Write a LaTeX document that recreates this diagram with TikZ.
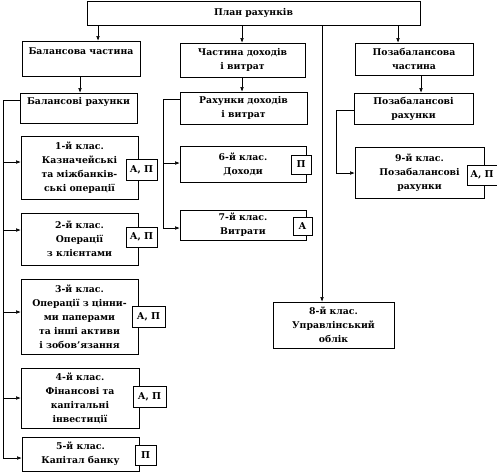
\documentclass[tikz,border=0pt]{standalone}
\usepackage{fontspec}
\setmainfont{DejaVu Serif}
\usetikzlibrary{arrows.meta}
\tikzset{
  blk/.style={draw, line width=0.6pt, align=center, inner sep=0pt,
    font=\bfseries\fontsize{9.3}{14}\selectfont},
  tag/.style={draw, fill=white, line width=0.6pt, inner sep=0pt,
    font=\bfseries\fontsize{9.5}{10}\selectfont},
  arr/.style={-{Latex[length=4.5pt,width=3.5pt]}, line width=0.5pt},
  ln/.style={line width=0.5pt},
}
\begin{document}
\begin{tikzpicture}[x=1pt, y=-1pt]
            \useasboundingbox (0,0) rectangle (497,472);
            % top level
            \node[blk, minimum width=333pt, minimum height=24pt] (plan) at (253.5,13) {План рахунків};
            \node[blk, minimum width=118pt, minimum height=35pt] (bal) at (81,58.5) {Балансова частина\\\mbox{}};
            \node[blk, minimum width=125pt, minimum height=34pt] (inc) at (242.5,60) {Частина доходів\\і витрат};
            \node[blk, minimum width=118pt, minimum height=32pt] (off) at (414,59) {Позабалансова\\частина};
            % accounts
            \node[blk, minimum width=117pt, minimum height=30pt] (balacc) at (78.5,108) {Балансові рахунки\\\mbox{}};
            \node[blk, minimum width=127pt, minimum height=32pt] (incacc) at (243.5,108) {Рахунки доходів\\і витрат};
            \node[blk, minimum width=119pt, minimum height=31pt] (offacc) at (413.5,108.5) {Позабалансові\\рахунки};
            % classes
            \node[blk, minimum width=117pt, minimum height=63pt] (c1) at (79.5,167.5) {1-й клас.\\Казначейські\\та міжбанків-\\ські операції};
            \node[blk, minimum width=117pt, minimum height=52pt] (c2) at (79.5,239) {2-й клас.\\Операції\\з клієнтами};
            \node[blk, minimum width=117pt, minimum height=75pt] (c3) at (79.5,316.5) {3-й клас.\\Операції з цінни-\\ми паперами\\та інші активи\\і зобов'язання};
            \node[blk, minimum width=118pt, minimum height=60pt] (c4) at (80,398) {4-й клас.\\Фінансові та\\капітальні\\інвестиції};
            \node[blk, minimum width=117pt, minimum height=34pt] (c5) at (80.5,454) {5-й клас.\\Капітал банку};
            \node[blk, minimum width=126pt, minimum height=36pt] (c6) at (243,164) {6-й клас.\\Доходи};
            \node[blk, minimum width=126pt, minimum height=30pt] (c7) at (243,225) {7-й клас.\\Витрати};
            \node[blk, minimum width=121pt, minimum height=46pt] (c8) at (333.5,325) {8-й клас.\\Управлінський\\облік};
            \node[blk, minimum width=129pt, minimum height=51pt] (c9) at (419.5,172.5) {9-й клас.\\Позабалансові\\рахунки};
            % side tags
            \node[tag, minimum width=31pt, minimum height=21pt] (t1) at (141.5,169.5) {А, П};
            \node[tag, minimum width=31pt, minimum height=20pt] (t2) at (141.5,237) {А, П};
            \node[tag, minimum width=33pt, minimum height=21pt] (t3) at (148.5,316.5) {А, П};
            \node[tag, minimum width=33pt, minimum height=21pt] (t4) at (149.5,396.5) {А, П};
            \node[tag, minimum width=21pt, minimum height=20pt] (t5) at (145.5,455) {П};
            \node[tag, minimum width=20pt, minimum height=19pt] (t6) at (301,164.5) {П};
            \node[tag, minimum width=19pt, minimum height=18pt] (t7) at (302.5,226) {А};
            \node[tag, minimum width=30pt, minimum height=20pt] (t9) at (482,175) {А, П};
            % from the plan
            \draw [arr] (plan.south -| 98,0) -- (bal.north -| 98,0);
            \draw [arr] (plan.south -| 242,0) -- (inc.north -| 242,0);
            \draw [arr] (plan.south -| 398,0) -- (off.north -| 398,0);
            \draw [arr] (plan.south -| 322,0) -- (c8.north -| 322,0);
            \draw [arr] (bal.south -| 80,0) -- (balacc.north -| 80,0);
            \draw [arr] (inc.south -| 242,0) -- (incacc.north -| 242,0);
            \draw [arr] (off.south -| 421,0) -- (offacc.north -| 421,0);
            % balance trunk
            \coordinate (tb) at (3,100);
            \draw [ln] (balacc.west |- tb) -- (tb) -- (tb |- 0,458);
            \foreach \n/\y in {c1/162, c2/230, c3/312, c4/398, c5/458}
              \draw [arr] (tb |- 0,\y) -- (\n.west |- 0,\y);
            % income trunk
            \coordinate (ti) at (163,99);
            \draw [ln] (incacc.west |- ti) -- (ti) -- (ti |- 0,228);
            \foreach \n/\y in {c6/163, c7/228}
              \draw [arr] (ti |- 0,\y) -- (\n.west |- 0,\y);
            % off-balance trunk
            \coordinate (to) at (336,110);
            \draw [arr] (offacc.west |- to) -- (to) |- (c9.west |- 0,173);
\end{tikzpicture}
\end{document}
